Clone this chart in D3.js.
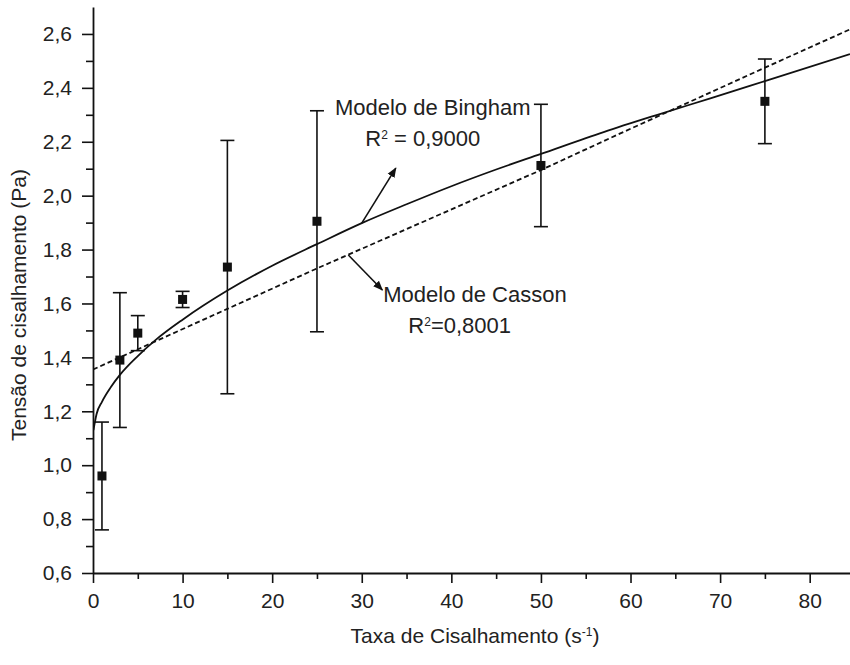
<!DOCTYPE html>
<html>
<head>
<meta charset="utf-8">
<script src="https://cdnjs.cloudflare.com/ajax/libs/d3/7.8.5/d3.min.js"></script>
<style>
  body { margin: 0; background: #fff; }
  svg text { font-family: "Liberation Sans", Arial, sans-serif; fill: #222; }
</style>
</head>
<body>
<svg width="850" height="665"></svg>
<script>
const width = 850;
const height = 665;

// Measured points (shear rate, mean stress, half error bar)
const rates = [1, 3, 5, 10, 15, 25, 50, 75];
const stress = [0.96, 1.39, 1.49, 1.615, 1.735, 1.905, 2.112, 2.35];
const errors = [0.2, 0.25, 0.065, 0.03, 0.47, 0.41, 0.227, 0.157];

// Solid curve (labelled Bingham)
const binghamX = [0.05, 0.4, 1, 2, 3, 5, 7, 10, 15, 20, 25, 30, 35, 40, 45, 50, 57, 63, 69, 75, 84.5];
const binghamY = [1.13, 1.19, 1.235, 1.29, 1.335, 1.405, 1.465, 1.54, 1.648, 1.74, 1.82, 1.898, 1.968, 2.035, 2.097, 2.155, 2.236, 2.3, 2.362, 2.425, 2.525];

// Dashed line (labelled Casson)
const cassonX = [0, 15, 25, 50, 58.8, 75, 84.5];
const cassonY = [1.355, 1.58, 1.73, 2.095, 2.23, 2.475, 2.617];

const xTicks = [0, 10, 20, 30, 40, 50, 60, 70, 80];
const xMinor = [5, 15, 25, 35, 45, 55, 65, 75];
const yTicks = [0.6, 0.8, 1.0, 1.2, 1.4, 1.6, 1.8, 2.0, 2.2, 2.4, 2.6];
const yMinor = [0.7, 0.9, 1.1, 1.3, 1.5, 1.7, 1.9, 2.1, 2.3, 2.5];

const svg = d3.select("svg").attr("width", width).attr("height", height);

const x = d3.scaleLinear().domain([0, 84.5]).range([93, 850]);
const y = d3.scaleLinear().domain([0.6, 2.7]).range([573, 7]);

const fmt = (d) => d.toFixed(1).replace(".", ",");

// y axis
const yAxis = svg.append("g").attr("transform", `translate(${x(0)},0)`);
yAxis.call(d3.axisLeft(y).tickValues(yTicks).tickFormat(fmt).tickSize(11).tickSizeOuter(0).tickPadding(10));
yAxis.selectAll("text").style("font-size", "21px");
svg.append("g")
  .attr("transform", `translate(${x(0)},0)`)
  .call(d3.axisLeft(y).tickValues(yMinor).tickFormat("").tickSize(7).tickSizeOuter(0))
  .select(".domain").remove();

// x axis
const xAxis = svg.append("g").attr("transform", `translate(0,${y(0.6)})`);
xAxis.call(d3.axisBottom(x).tickValues(xTicks).tickFormat(d3.format("d")).tickSize(10).tickSizeOuter(0).tickPadding(10));
xAxis.selectAll("text").style("font-size", "21px");
svg.append("g")
  .attr("transform", `translate(0,${y(0.6)})`)
  .call(d3.axisBottom(x).tickValues(xMinor).tickFormat("").tickSize(6).tickSizeOuter(0))
  .select(".domain").remove();

svg.selectAll(".domain").attr("stroke", "#111").attr("stroke-width", 1.8);
svg.selectAll(".tick line").attr("stroke", "#111").attr("stroke-width", 1.6);

// clip for curves
svg.append("clipPath").attr("id", "plot")
  .append("rect").attr("x", x(0)).attr("y", y(2.7)).attr("width", x(84.5) - x(0)).attr("height", y(0.6) - y(2.7));

const line = d3.line().x((d) => x(d[0])).y((d) => y(d[1])).curve(d3.curveMonotoneX);

svg.append("path")
  .datum(binghamX.map((v, i) => [v, binghamY[i]]))
  .attr("clip-path", "url(#plot)")
  .attr("d", line)
  .attr("fill", "none")
  .attr("stroke", "#111")
  .attr("stroke-width", 1.8);

svg.append("path")
  .datum(cassonX.map((v, i) => [v, cassonY[i]]))
  .attr("clip-path", "url(#plot)")
  .attr("d", d3.line().x((d) => x(d[0])).y((d) => y(d[1])))
  .attr("fill", "none")
  .attr("stroke", "#111")
  .attr("stroke-width", 1.8)
  .attr("stroke-dasharray", "5,3");

// error bars and squares
const pts = rates.map((r, i) => ({ r: r, v: stress[i], e: errors[i] }));
const bars = svg.append("g").selectAll("g").data(pts).join("g");
bars.append("line")
  .attr("x1", (d) => x(d.r)).attr("x2", (d) => x(d.r))
  .attr("y1", (d) => y(d.v - d.e)).attr("y2", (d) => y(d.v + d.e))
  .attr("stroke", "#111").attr("stroke-width", 1.6);
[-1, 1].forEach((s) => {
  bars.append("line")
    .attr("x1", (d) => x(d.r) - 7).attr("x2", (d) => x(d.r) + 7)
    .attr("y1", (d) => y(d.v + s * d.e)).attr("y2", (d) => y(d.v + s * d.e))
    .attr("stroke", "#111").attr("stroke-width", 1.6);
});
bars.append("rect")
  .attr("x", (d) => x(d.r) - 4.5).attr("y", (d) => y(d.v) - 4.5)
  .attr("width", 9).attr("height", 9)
  .attr("fill", "#111");

// arrows
svg.append("defs").append("marker")
  .attr("id", "head")
  .attr("viewBox", "0 0 10 10")
  .attr("refX", 9).attr("refY", 5)
  .attr("markerWidth", 10).attr("markerHeight", 10)
  .attr("markerUnits", "userSpaceOnUse")
  .attr("orient", "auto")
  .append("path").attr("d", "M0,1 L10,5 L0,9 Z").attr("fill", "#111");

const arrows = [
  [30.0, 1.898, 33.8, 2.102],
  [28.5, 1.78, 32.3, 1.65]
];
svg.append("g").selectAll("line").data(arrows).join("line")
  .attr("x1", (d) => x(d[0])).attr("y1", (d) => y(d[1]))
  .attr("x2", (d) => x(d[2])).attr("y2", (d) => y(d[3]))
  .attr("stroke", "#111").attr("stroke-width", 1.6)
  .attr("marker-end", "url(#head)");

// annotations
const note = (vx, vy, main, sup, rest) => {
  const t = svg.append("text").attr("x", x(vx)).attr("y", y(vy)).style("font-size", "22px");
  t.append("tspan").text(main);
  if (sup) {
    t.append("tspan").attr("baseline-shift", "7px").style("font-size", "12px").text(sup);
    t.append("tspan").text(rest);
  }
};
note(27.0, 2.299, "Modelo de Bingham");
note(30.4, 2.184, "R", "2", " = 0,9000");
note(32.4, 1.607, "Modelo de Casson");
note(35.2, 1.49, "R", "2", "=0,8001");

// axis titles
const xt = svg.append("text")
  .attr("x", 475).attr("y", 643)
  .attr("text-anchor", "middle")
  .style("font-size", "21px");
xt.append("tspan").text("Taxa de Cisalhamento (s");
xt.append("tspan").attr("baseline-shift", "7px").style("font-size", "12px").text("-1");
xt.append("tspan").text(")");

svg.append("text")
  .attr("transform", "translate(26,305) rotate(-90)")
  .attr("text-anchor", "middle")
  .style("font-size", "21px")
  .text("Tensão de cisalhamento (Pa)");
</script>
</body>
</html>
